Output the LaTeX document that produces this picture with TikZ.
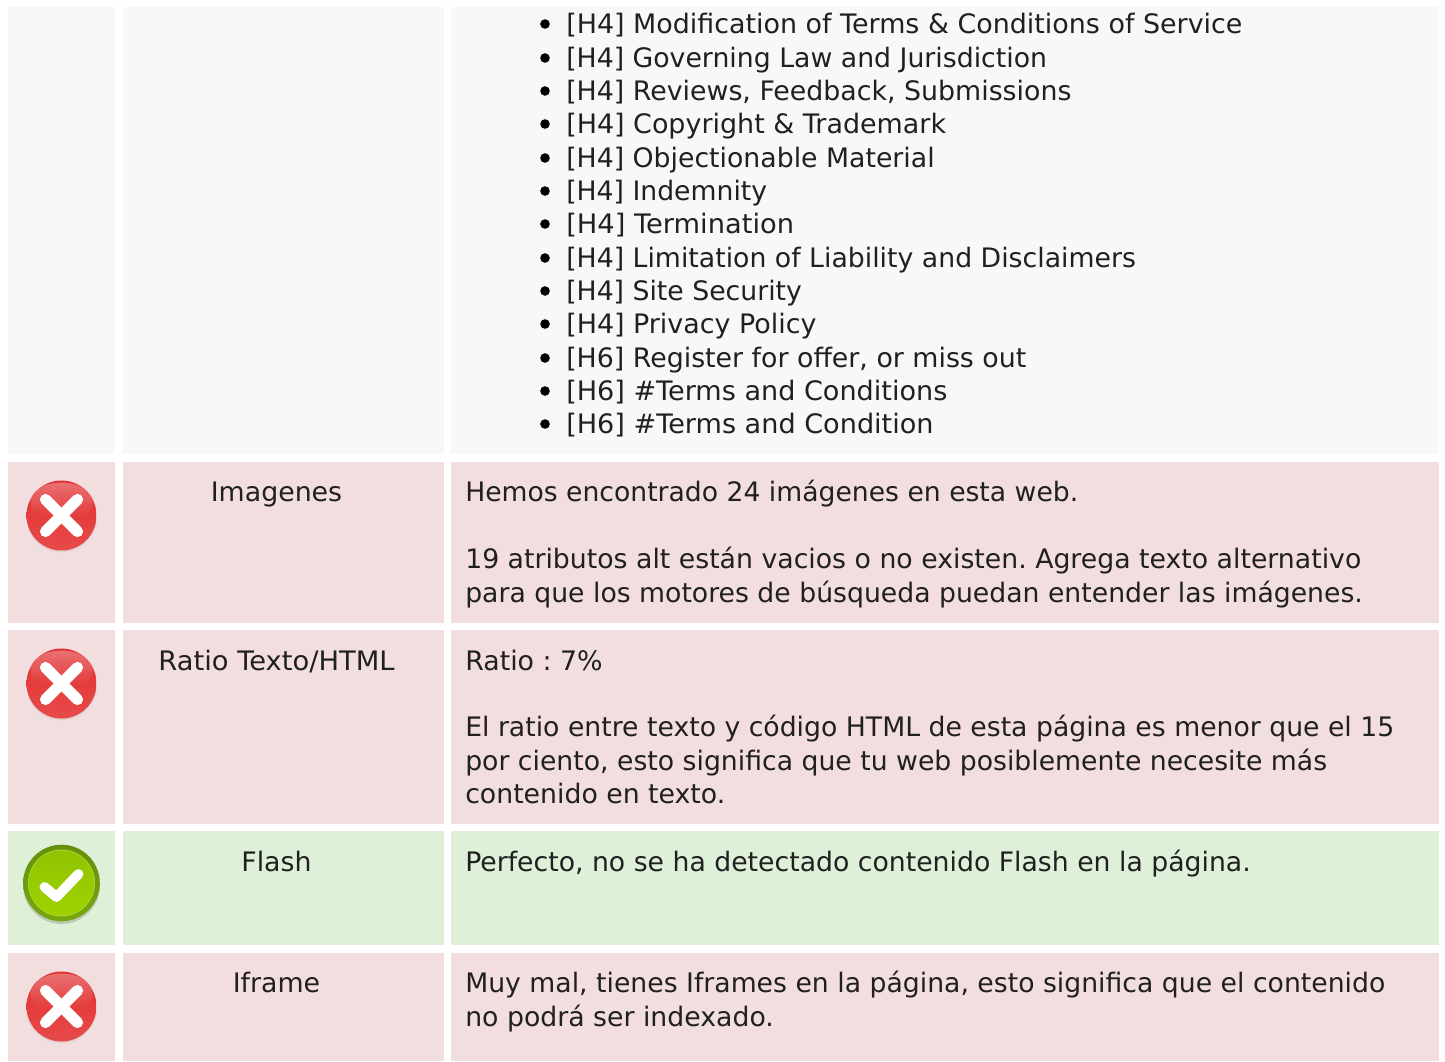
\documentclass[tikz,border=0pt]{standalone}
\usepackage{fontspec}
\setmainfont{DejaVu Sans}
\frenchspacing
\usetikzlibrary{calc}
\definecolor{rowgrey}{HTML}{F8F8F8}
\definecolor{rowred}{HTML}{F2DEDF}
\definecolor{rowgreen}{HTML}{DFF0D8}
\definecolor{txt}{HTML}{202020}
\definecolor{R1}{HTML}{E23030}
\definecolor{R2}{HTML}{E74A4A}
\definecolor{R3}{HTML}{E97070}
\definecolor{G1}{HTML}{76A80C}
\definecolor{G2}{HTML}{A0D200}
\definecolor{G3}{HTML}{90C400}
\definecolor{G4}{HTML}{A8D630}
\tikzset{
 x=0.75pt,y=-0.75pt,
 rowtext/.style={anchor=base west,inner sep=0pt,text=txt,font=\fontsize{20.1pt}{25pt}\selectfont},
 rowhead/.style={anchor=base,inner sep=0pt,text=txt,font=\fontsize{20.1pt}{25pt}\selectfont},
 wide/.style={font=\fontsize{20.1pt}{25pt}\selectfont\addfontfeatures{FakeStretch=#1}},
 bulletdot/.style={circle,fill=black,inner sep=0pt,minimum size=7.2pt},
}
\newcommand{\cellrect}[5]{\fill[#1] (#2,#3) rectangle (#4,#5);}
\newcommand{\bulletline}[4][1]{%
 \node[bulletdot] (d#2) at (545,#3-9) {};
 \node[rowtext,wide=#1] (b#2) at (566,#3) {#4};}
\newcommand{\crossicon}[3]{%
 \begin{scope}[shift={(#2,#3)}]
 \fill[rowred!75!gray,opacity=.5] (0,1.2) circle[radius=35.5];
 \shade[top color=R1,middle color=R1,bottom color=R2] (0,0) circle[radius=35];
 \shade[top color=R3,bottom color=R1!90!R2] (0,-13) ellipse[x radius=31,y radius=20];
 \draw[line width=8.4pt,line cap=round,white] (-16,-16) -- (16,16) (-16,16) -- (16,-16);
 \end{scope}}
\begin{document}
\begin{tikzpicture}
\useasboundingbox (0,0) rectangle (1445,1061);
\fill[white] (0,0) rectangle (1445,1061);
% row backgrounds
\cellrect{rowgrey}{8}{7}{115}{454}
\cellrect{rowgrey}{123}{7}{444}{454}
\cellrect{rowgrey}{451}{7}{1439}{454}
\cellrect{rowred}{8}{462}{115}{623}
\cellrect{rowred}{123}{462}{444}{623}
\cellrect{rowred}{451}{462}{1439}{623}
\cellrect{rowred}{8}{630}{115}{824}
\cellrect{rowred}{123}{630}{444}{824}
\cellrect{rowred}{451}{630}{1439}{824}
\cellrect{rowgreen}{8}{831}{115}{945}
\cellrect{rowgreen}{123}{831}{444}{945}
\cellrect{rowgreen}{451}{831}{1439}{945}
\cellrect{rowred}{8}{953}{115}{1061}
\cellrect{rowred}{123}{953}{444}{1061}
\cellrect{rowred}{451}{953}{1439}{1061}
% list
\bulletline[1.004]{1}{33}{[H4] Modification of Terms \& Conditions of Service}
\bulletline[.997]{2}{67}{[H4] Governing Law and Jurisdiction}
\bulletline{3}{100}{[H4] Reviews, Feedback, Submissions}
\bulletline[1.005]{4}{133}{[H4] Copyright \& Trademark}
\bulletline[.997]{5}{167}{[H4] Objectionable Material}
\bulletline[.995]{6}{200}{[H4] Indemnity}
\bulletline[1.018]{7}{233}{[H4] Termination}
\bulletline[.997]{8}{267}{[H4] Limitation of Liability and Disclaimers}
\bulletline[.996]{9}{300}{[H4] Site Security}
\bulletline[1.004]{10}{333}{[H4] Privacy Policy}
\bulletline{11}{367}{[H6] Register for offer, or miss out}
\bulletline[1.01]{12}{400}{[H6] \#Terms and Conditions}
\bulletline[1.011]{13}{433}{[H6] \#Terms and Condition}
% headings
\node[rowhead] (h1) at (276.5,501) {Imagenes};
\node[rowhead,wide=1.02] (h2) at (276.5,670) {Ratio Texto/HTML};
\node[rowhead] (h3) at (276.5,871) {Flash};
\node[rowhead] (h4) at (276.5,992) {Iframe};
% texts
\node[rowtext,wide=.9935] (t1a) at (465,501) {Hemos encontrado 24 imágenes en esta web.};
\node[rowtext,wide=.997] (t1b) at (465,568) {19 atributos alt están vacios o no existen. Agrega texto alternativo};
\node[rowtext,wide=.9955] (t1c) at (465,602) {para que los motores de búsqueda puedan entender las imágenes.};
\node[rowtext] (t2a) at (465,670) {Ratio : 7\%};
\node[rowtext,wide=.9955] (t2b) at (465,736) {El ratio entre texto y código HTML de esta página es menor que el 15};
\node[rowtext,wide=.9955] (t2c) at (465,770) {por ciento, esto significa que tu web posiblemente necesite más};
\node[rowtext,wide=.997] (t2d) at (465,803) {contenido en texto.};
\node[rowtext,wide=.996] (t3a) at (465,871) {Perfecto, no se ha detectado contenido Flash en la página.};
\node[rowtext,wide=.9955] (t4a) at (465,992) {Muy mal, tienes Iframes en la página, esto significa que el contenido};
\node[rowtext,wide=.997] (t4b) at (465,1026) {no podrá ser indexado.};
% icons
\crossicon{i1}{61.5}{515.5}
\crossicon{i2}{61.5}{683.5}
\crossicon{i4}{61.5}{1006.5}
\begin{scope}[shift={(61.5,883)}]
 \fill[gray,opacity=.35] (0,2.5) circle[radius=38.5];
 \shade[top color=G1!85!black,bottom color=G1] (0,0) circle[radius=38.3];
 \fill[G4] (0,0) circle[radius=33.5];
 \shade[top color=G3,bottom color=G2] (0,0) circle[radius=32.5];
 \draw[line width=7.4pt,white,line cap=round,line join=round] (-17,4) -- (-5,14) -- (17,-9);
\end{scope}
\end{tikzpicture}
\end{document}
